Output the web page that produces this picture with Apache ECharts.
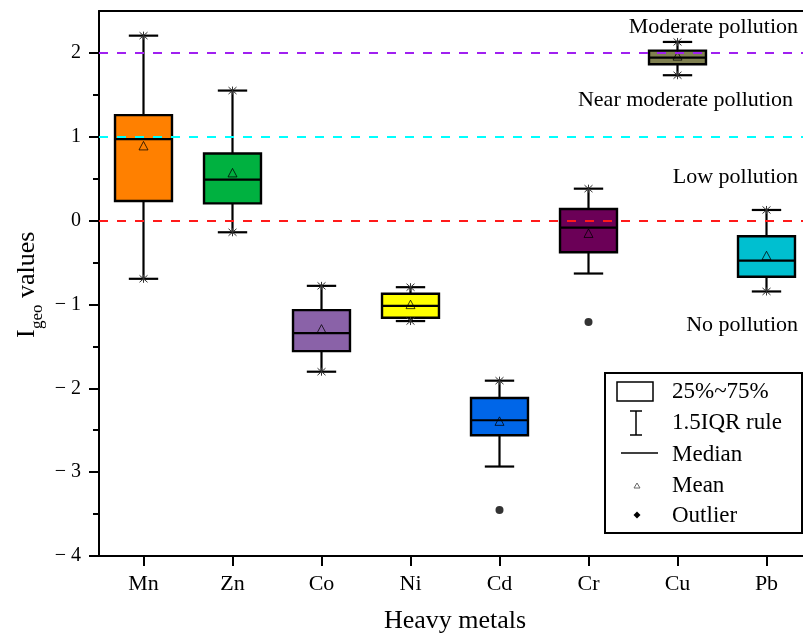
<!DOCTYPE html>
<html>
<head>
<meta charset="utf-8">
<script src="https://cdn.jsdelivr.net/npm/echarts@6/dist/echarts.min.js"></script>
<style>html,body{margin:0;padding:0;background:#fff;}#c{width:803px;height:637px;}</style>
</head>
<body>
<div id="c"></div>
<script>
const categories = ['Mn', 'Zn', 'Co', 'Ni', 'Cd', 'Cr', 'Cu', 'Pb'];
const whiskerLow  = [-0.694, -0.139, -1.802, -1.198, -2.933, -0.631, 1.734, -0.845];
const q1          = [0.234, 0.206, -1.556, -1.159, -2.560, -0.377, 1.865, -0.670];
const median      = [0.972, 0.488, -1.341, -1.016, -2.381, -0.083, 1.944, -0.476];
const q3          = [1.258, 0.800, -1.067, -0.873, -2.115, 0.139, 2.028, -0.187];
const whiskerHigh = [2.206, 1.551, -0.778, -0.794, -1.909, 0.381, 2.131, 0.127];
const means       = [0.885, 0.563, -1.300, -1.008, -2.400, -0.159, 1.956, -0.425];
const lowIsMin    = [1, 1, 1, 1, 0, 0, 1, 1];
const highIsMax   = [1, 1, 1, 1, 1, 1, 1, 1];
const outliers    = [['Cd', -3.452], ['Cr', -1.210]];
const boxColors   = ['#FF8000', '#00B140', '#8A62A8', '#FFFF00', '#0066E8', '#6B0057', '#7F7F4F', '#00BFD0'];
const refLevels   = [2, 1, 0];
const refColors   = ['#A020F0', '#00FFFF', '#FF1A1A'];
const refLabels   = ['Moderate pollution', 'Near moderate pollution', 'Low pollution', 'No pollution'];
const majorTicks  = [-4, -3, -2, -1, 0, 1, 2];
const minorTicks  = [-3.5, -2.5, -1.5, -0.5, 0.5, 1.5];
const legendItems = ['25%~75%', '1.5IQR rule', 'Median', 'Mean', 'Outlier'];

const FONT = '"Liberation Serif", "Times New Roman", serif';

const boxData = categories.map((c, i) => [i, whiskerLow[i], q1[i], median[i], q3[i], whiskerHigh[i], means[i], lowIsMin[i], highIsMax[i]]);

function renderBox(params, api) {
  const i = api.value(0);
  const band = api.size([1, 0])[0];
  const bw = band * 0.64, cw = band * 0.33;
  const pLo = api.coord([i, api.value(1)]);
  const pQ1 = api.coord([i, api.value(2)]);
  const pMed = api.coord([i, api.value(3)]);
  const pQ3 = api.coord([i, api.value(4)]);
  const pHi = api.coord([i, api.value(5)]);
  const pMean = api.coord([i, api.value(6)]);
  const cx = pMed[0];
  const blk = {stroke: '#000', lineWidth: 2.2};
  const thin = {stroke: '#333', lineWidth: 1};
  const ch = [];
  ch.push({type: 'line', shape: {x1: cx, y1: pQ3[1], x2: cx, y2: pHi[1]}, style: blk});
  ch.push({type: 'line', shape: {x1: cx, y1: pQ1[1], x2: cx, y2: pLo[1]}, style: blk});
  ch.push({type: 'line', shape: {x1: cx - cw / 2, y1: pHi[1], x2: cx + cw / 2, y2: pHi[1]}, style: blk});
  ch.push({type: 'line', shape: {x1: cx - cw / 2, y1: pLo[1], x2: cx + cw / 2, y2: pLo[1]}, style: blk});
  ch.push({type: 'rect', shape: {x: cx - bw / 2, y: pQ3[1], width: bw, height: pQ1[1] - pQ3[1]},
           style: {fill: boxColors[i], stroke: '#000', lineWidth: 2.4}});
  ch.push({type: 'line', shape: {x1: cx - bw / 2, y1: pMed[1], x2: cx + bw / 2, y2: pMed[1]}, style: blk});
  const my = pMean[1];
  ch.push({type: 'polygon', shape: {points: [[cx, my - 5], [cx - 4.5, my + 3.5], [cx + 4.5, my + 3.5]]},
           style: {fill: 'none', stroke: 'rgba(0,0,0,0.75)', lineWidth: 1}});
  function cross(y) {
    ch.push({type: 'line', shape: {x1: cx - 4, y1: y - 3.5, x2: cx + 4, y2: y + 3.5}, style: thin});
    ch.push({type: 'line', shape: {x1: cx - 4, y1: y + 3.5, x2: cx + 4, y2: y - 3.5}, style: thin});
    ch.push({type: 'line', shape: {x1: cx, y1: y - 4, x2: cx, y2: y + 4}, style: thin});
  }
  if (api.value(8)) cross(pHi[1]);
  if (api.value(7)) cross(pLo[1]);
  return {type: 'group', children: ch};
}

const graphics = [];
const labelPos = [[798, 27], [793, 100], [798, 177], [798, 325]];
refLabels.forEach((t, k) => {
  graphics.push({type: 'text', style: {text: t, x: labelPos[k][0], y: labelPos[k][1], fill: '#000',
    font: '22px ' + FONT, align: 'right', verticalAlign: 'middle', textAlign: 'right', textVerticalAlign: 'middle'}});
});
graphics.push({type: 'group', x: 35, y: 338, rotation: Math.PI / 2, children: [
  {type: 'text', style: {text: 'I', x: 0, y: -8, fill: '#000', font: '26px ' + FONT, align: 'left', verticalAlign: 'middle'}},
  {type: 'text', style: {text: 'geo', x: 9, y: 3, fill: '#000', font: '17px ' + FONT, align: 'left', verticalAlign: 'middle'}},
  {type: 'text', style: {text: 'values', x: 40, y: -8, fill: '#000', font: '26px ' + FONT, align: 'left', verticalAlign: 'middle'}}
]});
graphics.push({type: 'rect', shape: {x: 605, y: 373, width: 197, height: 160}, style: {fill: '#fff', stroke: '#000', lineWidth: 2}, z: 100});
const rowY = [392, 423, 455, 486, 516];
legendItems.forEach((t, k) => {
  graphics.push({type: 'text', z: 101, style: {text: t, x: 672, y: rowY[k], fill: '#000', font: '23px ' + FONT, align: 'left', verticalAlign: 'middle'}});
});
graphics.push({type: 'rect', z: 101, shape: {x: 617, y: 382, width: 36, height: 19}, style: {fill: 'none', stroke: '#000', lineWidth: 1.5}});
graphics.push({type: 'line', z: 101, shape: {x1: 636, y1: 411, x2: 636, y2: 435}, style: {stroke: '#000', lineWidth: 1.5}});
graphics.push({type: 'line', z: 101, shape: {x1: 630, y1: 411, x2: 642, y2: 411}, style: {stroke: '#000', lineWidth: 1.5}});
graphics.push({type: 'line', z: 101, shape: {x1: 630, y1: 435, x2: 642, y2: 435}, style: {stroke: '#000', lineWidth: 1.5}});
graphics.push({type: 'line', z: 101, shape: {x1: 621, y1: 453, x2: 658, y2: 453}, style: {stroke: '#000', lineWidth: 1.5}});
graphics.push({type: 'polygon', z: 101, shape: {points: [[637, 483], [634, 488], [640, 488]]}, style: {fill: 'none', stroke: '#666', lineWidth: 1}});
graphics.push({type: 'polygon', z: 101, shape: {points: [[637, 511.5], [640.5, 515], [637, 518.5], [633.5, 515]]}, style: {fill: '#000'}});

const option = {
  animation: false,
  backgroundColor: '#fff',
  textStyle: {fontFamily: FONT},
  grid: {left: 99, top: 11, width: 712, height: 545, containLabel: false, outerBoundsMode: 'none'},
  xAxis: [{
    type: 'category', data: categories, boundaryGap: true, position: 'bottom',
    axisLine: {show: true, onZero: false, lineStyle: {color: '#000', width: 2}},
    axisTick: {show: true, alignWithLabel: true, length: 10, lineStyle: {color: '#000', width: 2}},
    axisLabel: {fontSize: 22, color: '#000', margin: 17, fontFamily: FONT},
    splitLine: {show: false},
    name: 'Heavy metals', nameLocation: 'middle', nameGap: 52,
    nameTextStyle: {fontSize: 26, color: '#000', fontFamily: FONT}
  }, {
    type: 'category', data: categories, position: 'top',
    axisLine: {show: true, onZero: false, lineStyle: {color: '#000', width: 2}},
    axisTick: {show: false}, axisLabel: {show: false}, splitLine: {show: false}
  }],
  yAxis: [{
    type: 'value', min: -4, max: 2.5, interval: 1,
    axisLine: {show: true, onZero: false, lineStyle: {color: '#000', width: 2}},
    axisTick: {show: true, length: 10, lineStyle: {color: '#000', width: 2}, customValues: majorTicks},
    axisLabel: {customValues: majorTicks, fontSize: 20, color: '#000', margin: 18, fontFamily: FONT,
      formatter: v => v < 0 ? '\u2212 ' + Math.abs(v) : String(v)},
    splitLine: {show: false}
  }, {
    type: 'value', min: -4, max: 2.5, interval: 0.5, position: 'left',
    axisLine: {show: false, onZero: false},
    axisTick: {show: true, length: 6, lineStyle: {color: '#000', width: 2}, customValues: minorTicks},
    axisLabel: {show: false}, splitLine: {show: false}
  }],
  series: [{
    type: 'custom', name: 'box', renderItem: renderBox, data: boxData,
    encode: {x: 0, y: [1, 2, 3, 4, 5]}, z: 2
  }, {
    type: 'scatter', name: 'outliers', data: outliers, symbol: 'circle', symbolSize: 8,
    itemStyle: {color: '#000'}, z: 3
  }, {
    type: 'line', name: 'ref', data: [], z: 6,
    markLine: {
      silent: true, symbol: 'none', label: {show: false}, z: 6,
      data: refLevels.map((v, k) => ({yAxis: v, lineStyle: {color: refColors[k], width: 2, type: [9, 9]}}))
    }
  }],
  graphic: graphics
};
const chart = echarts.init(document.getElementById('c'), null, {renderer: 'canvas'});
chart.setOption(option);
</script>
</body>
</html>
